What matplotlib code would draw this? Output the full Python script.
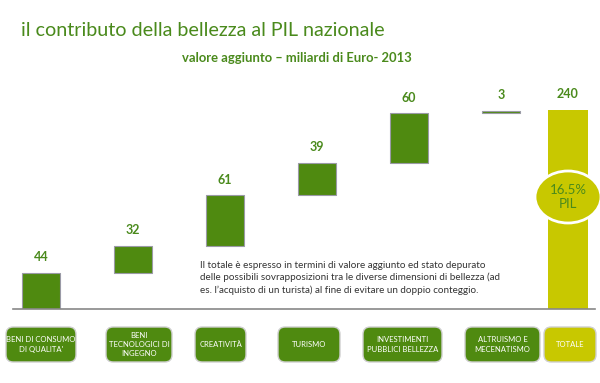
import numpy as np
import matplotlib
matplotlib.use("Agg")
import matplotlib.pyplot as plt
from matplotlib.patches import FancyBboxPatch, Ellipse

categories = ["BENI DI CONSUMO\nDI QUALITA'", "BENI\nTECNOLOGICI DI\nINGEGNO", "CREATIVITÀ",
              "TURISMO", "INVESTIMENTI\nPUBBLICI BELLEZZA", "ALTRUISMO E\nMECENATISMO", "TOTALE"]
values = [44, 32, 61, 39, 60, 3]
total = 240
pil_share = "16.5%\nPIL"

GREEN = "#4f8a10"
YELLOW = "#c8c800"
TXTGREEN = "#4a8a1c"

fig = plt.figure(figsize=(6.0, 3.83), dpi=100)
W, H = 600, 383

def fx(px):
    return px / W

def fy(py):
    return 1 - py / H

base_py, top_py = 309, 93.5
ax = fig.add_axes([0, fy(base_py), 1, (base_py - top_py) / H])
ax.set_xlim(-41 / 92, (600 - 41) / 92)
ax.set_ylim(0, 260)
ax.axis("off")

x = np.arange(len(values), dtype=float)
bottoms = np.concatenate([[0], np.cumsum(values)[:-1]])
ax.bar(x, values, bottom=bottoms, width=0.41, color=GREEN, edgecolor="#9a9aa6", linewidth=0.8)
xt = (568 - 41) / 92
ax.bar([xt], [total], width=0.43, color=YELLOW, edgecolor="none")

for xi, b, v in zip(x, bottoms, values):
    ax.annotate(str(v), (xi, b + v), xytext=(0, 7), textcoords="offset points",
                ha="center", va="bottom", fontsize=9, fontweight="bold", color=TXTGREEN,
                family=["Lato", "DejaVu Sans"])
ax.annotate(str(total), (xt, total), xytext=(0, 7), textcoords="offset points",
            ha="center", va="bottom", fontsize=9, fontweight="bold", color=TXTGREEN,
            family=["Lato", "DejaVu Sans"])

ax.plot([13 / 92 - 41 / 92, 595 / 92 - 41 / 92], [0, 0], color="#888888", lw=1.2, clip_on=False)

# Ellipse with PIL share
ell = Ellipse((fx(568), fy(197)), 66 / W, 52 / H, transform=fig.transFigure,
              facecolor=YELLOW, edgecolor="white", linewidth=2, zorder=5)
fig.patches.append(ell)
fig.text(fx(568), fy(197), pil_share, ha="center", va="center", fontsize=9.5,
         color=TXTGREEN, family=["Lato", "DejaVu Sans"], linespacing=1.2, zorder=6)

# Titles
fig.text(fx(21), fy(30), "il contributo della bellezza al PIL nazionale", ha="left", va="center",
         fontsize=14.2, color=TXTGREEN, family=["Lato", "DejaVu Sans"])
fig.text(fx(297), fy(58), "valore aggiunto – miliardi di Euro- 2013", ha="center", va="center",
         fontsize=9.4, fontweight="bold", color=TXTGREEN, family=["Lato", "DejaVu Sans"])

# Note
note = ("Il totale è espresso in termini di valore aggiunto ed stato depurato\n"
        "delle possibili sovrapposizioni tra le diverse dimensioni di bellezza (ad\n"
        "es. l’acquisto di un turista) al fine di evitare un doppio conteggio.")
fig.text(fx(200), fy(278), note, ha="left", va="center", fontsize=7.1, color="#333333",
         family=["Lato", "DejaVu Sans"], linespacing=1.45)

# Category boxes
boxes = [(6, 76), (106, 172), (195, 246), (278, 340), (363, 442), (465, 540), (544, 596)]
y0, y1 = 327, 362
for (l, r), cat in zip(boxes, categories):
    color = YELLOW if cat == "TOTALE" else GREEN
    p = FancyBboxPatch((fx(l), fy(y1)), fx(r - l), (y1 - y0) / H,
                       boxstyle="round,pad=0,rounding_size=0.012", transform=fig.transFigure,
                       facecolor=color, edgecolor="#cfcfcf", linewidth=1, mutation_aspect=W / H)
    fig.patches.append(p)
    fig.text(fx((l + r) / 2), fy((y0 + y1) / 2), cat, ha="center", va="center", fontsize=5.5,
             color="white", family=["Lato", "DejaVu Sans"], linespacing=1.4)

fig.savefig("out.png", dpi=100, facecolor="white")
